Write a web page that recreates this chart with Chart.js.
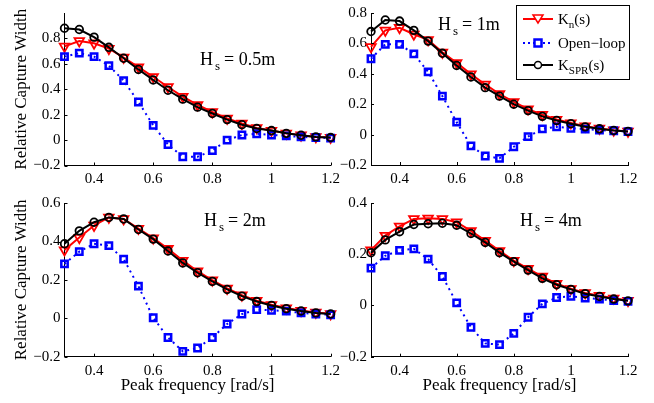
<!DOCTYPE html>
<html>
<head>
<meta charset="utf-8">
<script src="https://cdn.jsdelivr.net/npm/chart.js@4"></script>
<style>
  body { margin: 0; background: #fff; }
  #wrap { position: relative; width: 654px; height: 403px; overflow: hidden; font-family: 'Liberation Serif', serif; color: #000; }
  .panel { position: absolute; }
  .hs { position: absolute; font-size: 18px; line-height: 18px; white-space: nowrap; }
  .hs sub { font-size: 13px; position: relative; top: 5px; vertical-align: baseline; margin: 0 4px 0 2px; }
  #legend { position: absolute; left: 516px; top: 5px; width: 112px; height: 73px; border: 1px solid #000; background: #fff; font-size: 15px; }
  #legend .row { position: absolute; left: 0; height: 20px; line-height: 20px; white-space: nowrap; }
  #legend svg { position: absolute; left: 5px; top: 0; }
  #legend span.t { position: absolute; left: 41px; top: 0; }
  #legend sub { font-size: 11px; vertical-align: baseline; position: relative; top: 4px; }
</style>
</head>
<body>
<div id="wrap">
  <canvas id="c1" class="panel" width="345" height="190" style="left:0;top:0"></canvas>
  <canvas id="c2" class="panel" width="324" height="190" style="left:330px;top:0"></canvas>
  <canvas id="c3" class="panel" width="345" height="213" style="left:0;top:190px"></canvas>
  <canvas id="c4" class="panel" width="324" height="213" style="left:330px;top:190px"></canvas>

  <div class="hs" style="left:200px;top:50px">H<sub>s</sub>= 0.5m</div>
  <div class="hs" style="left:438px;top:15px">H<sub>s</sub>= 1m</div>
  <div class="hs" style="left:204px;top:211px">H<sub>s</sub>= 2m</div>
  <div class="hs" style="left:520px;top:211px">H<sub>s</sub>= 4m</div>

  <div id="legend">
    <div class="row" style="top:3px">
      <svg width="32" height="20"><line x1="1" y1="10" x2="31" y2="10" stroke="#f00" stroke-width="2"/><polygon points="11,6 21,6 16,14" fill="#fff" stroke="#f00" stroke-width="1.5"/></svg>
      <span class="t">K<sub>n</sub>(s)</span>
    </div>
    <div class="row" style="top:27px">
      <svg width="32" height="20"><line x1="1" y1="10" x2="31" y2="10" stroke="#00f" stroke-width="2" stroke-dasharray="2,3"/><rect x="12.5" y="6.5" width="7" height="7" fill="#fff" stroke="#00f" stroke-width="2.5"/></svg>
      <span class="t">Open−loop</span>
    </div>
    <div class="row" style="top:49px">
      <svg width="32" height="20"><line x1="1" y1="10" x2="31" y2="10" stroke="#000" stroke-width="2"/><circle cx="16" cy="10" r="3.5" fill="#fff" stroke="#000" stroke-width="1.5"/></svg>
      <span class="t">K<sub>SPR</sub>(s)</span>
    </div>
  </div>
</div>

<script>
const freq = [0.3, 0.35, 0.4, 0.45, 0.5, 0.55, 0.6, 0.65, 0.7, 0.75, 0.8, 0.85, 0.9, 0.95, 1.0, 1.05, 1.1, 1.15, 1.2]

// Hs = 0.5 m
const knHs05 = [0.737, 0.78, 0.762, 0.72, 0.65, 0.574, 0.498, 0.418, 0.342, 0.277, 0.221, 0.171, 0.131, 0.096, 0.075, 0.053, 0.038, 0.025, 0.02]
const openHs05 = [0.657, 0.684, 0.657, 0.586, 0.468, 0.30, 0.116, -0.035, -0.131, -0.131, -0.083, 0.0, 0.04, 0.05, 0.04, 0.033, 0.025, 0.02, 0.015]
const sprHs05 = [0.88, 0.87, 0.81, 0.73, 0.644, 0.556, 0.473, 0.392, 0.322, 0.259, 0.209, 0.161, 0.121, 0.091, 0.075, 0.053, 0.038, 0.025, 0.02]

// Hs = 1 m
const knHs1 = [0.577, 0.686, 0.703, 0.66, 0.623, 0.541, 0.472, 0.398, 0.33, 0.267, 0.215, 0.168, 0.131, 0.099, 0.076, 0.055, 0.04, 0.029, 0.021]
const openHs1 = [0.499, 0.594, 0.594, 0.531, 0.413, 0.253, 0.082, -0.074, -0.141, -0.156, -0.08, -0.013, 0.038, 0.051, 0.042, 0.036, 0.029, 0.025, 0.02]
const sprHs1 = [0.678, 0.754, 0.747, 0.686, 0.615, 0.535, 0.455, 0.379, 0.309, 0.253, 0.2, 0.158, 0.12, 0.093, 0.072, 0.051, 0.038, 0.027, 0.021]

// Hs = 2 m
const knHs2 = [0.355, 0.42, 0.483, 0.525, 0.517, 0.467, 0.417, 0.362, 0.3, 0.245, 0.198, 0.155, 0.12, 0.092, 0.07, 0.053, 0.04, 0.03, 0.023]
const openHs2 = [0.283, 0.347, 0.388, 0.378, 0.308, 0.167, 0.003, -0.1, -0.172, -0.155, -0.1, -0.03, 0.022, 0.045, 0.042, 0.037, 0.028, 0.022, 0.018]
const sprHs2 = [0.388, 0.455, 0.5, 0.525, 0.517, 0.462, 0.412, 0.35, 0.288, 0.237, 0.192, 0.15, 0.115, 0.087, 0.067, 0.05, 0.038, 0.028, 0.022]

// Hs = 4 m
const knHs4 = [0.216, 0.273, 0.309, 0.338, 0.34, 0.338, 0.325, 0.291, 0.253, 0.213, 0.175, 0.144, 0.113, 0.085, 0.065, 0.049, 0.038, 0.028, 0.019]
const openHs4 = [0.146, 0.194, 0.215, 0.221, 0.181, 0.113, 0.01, -0.085, -0.148, -0.153, -0.109, -0.046, 0.006, 0.031, 0.036, 0.029, 0.025, 0.019, 0.016]
const sprHs4 = [0.206, 0.256, 0.288, 0.316, 0.319, 0.321, 0.313, 0.281, 0.246, 0.206, 0.171, 0.138, 0.106, 0.081, 0.063, 0.046, 0.035, 0.025, 0.018]

const xTicks = [0.4, 0.6, 0.8, 1, 1.2]
const yTicksHs05 = [-0.2, 0, 0.2, 0.4, 0.6, 0.8]
const yTicksHs1 = [-0.2, 0, 0.2, 0.4, 0.6, 0.8]
const yTicksHs2 = [-0.2, 0, 0.2, 0.4, 0.6]
const yTicksHs4 = [-0.2, 0, 0.2, 0.4]

const tickFont = { family: 'Liberation Serif', size: 15 }
const titleFont = { family: 'Liberation Serif', size: 17 }

function fmt (v) {
  return v < 0 ? '\u2212' + Math.abs(v) : String(v)
}

function pts (ys) {
  return freq.map((f, i) => ({ x: f, y: ys[i] }))
}

// matlab style ticks pointing into the axes
const innerTicks = {
  id: 'innerTicks',
  afterDraw (chart) {
    const { ctx, chartArea, scales } = chart
    ctx.save()
    ctx.strokeStyle = '#000'
    ctx.lineWidth = 1
    ctx.beginPath()
    scales.x.ticks.forEach(t => {
      const px = Math.round(scales.x.getPixelForValue(t.value)) + 0.5
      ctx.moveTo(px, chartArea.bottom)
      ctx.lineTo(px, chartArea.bottom - 3)
    })
    scales.y.ticks.forEach(t => {
      const py = Math.round(scales.y.getPixelForValue(t.value)) + 0.5
      ctx.moveTo(chartArea.left, py)
      ctx.lineTo(chartArea.left + 3, py)
    })
    ctx.stroke()
    ctx.restore()
  }
}

function panel (id, kn, open, spr, yMin, yMax, yTicks, opt) {
  new Chart(document.getElementById(id), {
    type: 'line',
    data: {
      datasets: [
        {
          label: 'K_SPR(s)',
          data: pts(spr),
          borderColor: '#000',
          borderWidth: 2,
          pointStyle: 'circle',
          pointRadius: 3.8,
          pointBorderWidth: 1.8,
          pointBorderColor: '#000',
          pointBackgroundColor: 'rgba(0,0,0,0)',
          order: 1,
          clip: false
        },
        {
          label: 'Open-loop',
          data: pts(open),
          borderColor: '#00f',
          borderWidth: 2,
          borderDash: [2, 4],
          pointStyle: 'rect',
          pointRadius: 4.5,
          pointBorderWidth: 2.5,
          pointBorderColor: '#00f',
          pointBackgroundColor: 'rgba(0,0,0,0)',
          order: 2,
          clip: false
        },
        {
          label: 'K_n(s)',
          data: pts(kn),
          borderColor: '#f00',
          borderWidth: 2,
          pointStyle: 'triangle',
          rotation: 180,
          pointRadius: 5.5,
          pointBorderWidth: 1.8,
          pointBorderColor: '#f00',
          pointBackgroundColor: 'rgba(0,0,0,0)',
          order: 3,
          clip: false
        }
      ]
    },
    options: {
      responsive: false,
      animation: false,
      layout: { padding: { top: opt.top, right: opt.right, left: 0, bottom: 0 } },
      plugins: { legend: { display: false }, tooltip: { enabled: false } },
      elements: { line: { tension: 0 } },
      scales: {
        x: {
          type: 'linear',
          min: 0.3,
          max: 1.2,
          afterBuildTicks: s => { s.ticks = xTicks.map(v => ({ value: v })) },
          afterFit: s => { s.height = opt.xh },
          ticks: { font: tickFont, color: '#000', padding: 5, maxRotation: 0, autoSkip: false, callback: fmt },
          grid: { display: true, drawOnChartArea: false, drawTicks: false },
          border: { display: true, color: '#000', width: 1 },
          title: { display: !!opt.xTitle, text: 'Peak frequency [rad/s]', font: titleFont, color: '#000', padding: { top: 0, bottom: 7 } }
        },
        y: {
          min: yMin,
          max: yMax,
          afterBuildTicks: s => { s.ticks = yTicks.map(v => ({ value: v })) },
          afterFit: s => { s.width = opt.yw },
          ticks: { font: tickFont, color: '#000', padding: 4, autoSkip: false, callback: fmt },
          grid: { display: true, drawOnChartArea: false, drawTicks: false },
          border: { display: true, color: '#000', width: 1 },
          title: { display: !!opt.yTitle, text: 'Relative Capture Width', font: titleFont, color: '#000', padding: { top: 11, bottom: 0 } }
        }
      }
    },
    plugins: [innerTicks]
  })
}

panel('c1', knHs05, openHs05, sprHs05, -0.2, 1.0, yTicksHs05, { top: 5.5, right: 6, xh: 24.5, yw: 64.5, yTitle: true })
panel('c2', knHs1, openHs1, sprHs1, -0.2, 0.8, yTicksHs1, { top: 7, right: 26, xh: 25, yw: 41 })
panel('c3', knHs2, openHs2, sprHs2, -0.2, 0.6, yTicksHs2, { top: 8, right: 6, xh: 46.3, yw: 64.5, yTitle: true, xTitle: true })
panel('c4', knHs4, openHs4, sprHs4, -0.2, 0.4, yTicksHs4, { top: 8, right: 26, xh: 46.3, yw: 41, xTitle: true })
</script>
</body>
</html>
